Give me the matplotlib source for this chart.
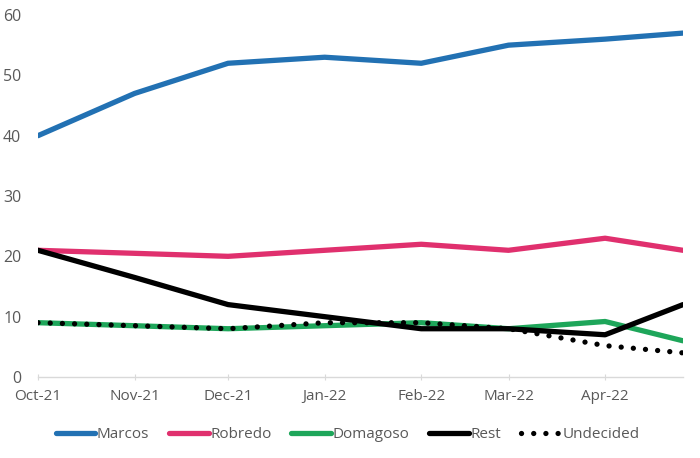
import matplotlib
matplotlib.use("Agg")
import matplotlib.pyplot as plt
import numpy as np
from datetime import datetime

dates = ["2021-10-01", "2021-11-01", "2021-12-01", "2022-01-01", "2022-02-01",
         "2022-03-01", "2022-04-01", "2022-04-26"]
marcos = [40, 47, 52, 53, 52, 55, 56, 57]
robredo = [21, 20.5, 20, 21, 22, 21, 23, 21]
domagoso = [9, 8.5, 8, 8.5, 9, 8, 9.2, 6]
rest = [21, 16.5, 12, 10, 8, 8, 7, 12]
undecided = [9, 8.5, 8, 9, 9, 8, 5.2, 4]
tick_labels = ["Oct-21", "Nov-21", "Dec-21", "Jan-22", "Feb-22", "Mar-22", "Apr-22"]
tick_dates = ["2021-10-01", "2021-11-01", "2021-12-01", "2022-01-01", "2022-02-01",
              "2022-03-01", "2022-04-01"]

plt.rcParams['font.family'] = ['Open Sans', 'DejaVu Sans']
x = [datetime.strptime(d, "%Y-%m-%d") for d in dates]
tx = [datetime.strptime(d, "%Y-%m-%d") for d in tick_dates]

fig = plt.figure(figsize=(7.0, 4.58), dpi=100)
ax = fig.add_axes([38/700, 1-377/458, (683-38)/700, (377-15)/458])

lw = 3.8
ax.plot(x, marcos, color="#2271b3", lw=lw, solid_capstyle="round", label="Marcos")
ax.plot(x, robredo, color="#e0306e", lw=lw, solid_capstyle="round", label="Robredo")
ax.plot(x, domagoso, color="#1ea65a", lw=lw, solid_capstyle="round", label="Domagoso")
ax.plot(x, rest, color="black", lw=lw, solid_capstyle="round", label="Rest")
ax.plot(x, undecided, color="black", lw=lw, linestyle=(0, (0.01, 2.3)),
        dash_capstyle="round", label="Undecided")

ax.set_xlim(x[0], x[-1])
ax.set_ylim(0, 60)
ax.set_yticks(np.arange(0, 61, 10))
ax.set_xticks(tx)
ax.set_xticklabels(tick_labels)
for s in ["top", "right", "left"]:
    ax.spines[s].set_visible(False)
ax.spines["bottom"].set_color("#d9d9d9")
ax.spines["bottom"].set_linewidth(1)
ax.tick_params(axis="y", length=0, pad=12, labelsize=11.5, labelcolor="#595959")
ax.tick_params(axis="x", direction="inout", length=5, color="#d9d9d9",
               pad=6, labelsize=11, labelcolor="#595959")

leg = ax.legend(loc="center", bbox_to_anchor=(0.48, -0.16), ncol=5, frameon=False,
                handlelength=2.6, handletextpad=0.1, columnspacing=1.3,
                fontsize=11)
for t in leg.get_texts():
    t.set_color("#595959")

fig.savefig("out.png", dpi=100)
